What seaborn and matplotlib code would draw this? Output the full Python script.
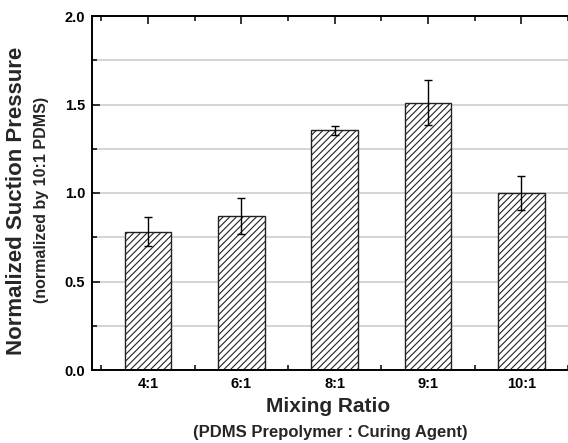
import matplotlib
matplotlib.use("Agg")
import matplotlib.pyplot as plt
from matplotlib.ticker import MultipleLocator
import pandas as pd
import seaborn as sns

sns.set_style("white")
plt.rcParams["font.family"] = ["Liberation Sans", "DejaVu Sans"]
plt.rcParams["font.weight"] = "bold"
plt.rcParams["hatch.linewidth"] = 0.8

# data
ratios = ["4:1", "6:1", "8:1", "9:1", "10:1"]
pressure = [0.78, 0.87, 1.355, 1.51, 1.00]
pressure_err = [0.082, 0.10, 0.025, 0.128, 0.097]

df = pd.DataFrame({"ratio": ratios, "pressure": pressure})

fig = plt.figure(figsize=(5.68, 4.43), dpi=100)
ax = fig.add_axes([92 / 568, 1 - 370 / 443, 1 - 92 / 568, (370 - 16) / 443])

sns.barplot(data=df, x="ratio", y="pressure", color="white", edgecolor="#222222",
            linewidth=1.0, width=0.5, hatch="/////", ax=ax, zorder=2)
ax.errorbar(range(len(ratios)), pressure, yerr=pressure_err, fmt="none",
            ecolor="black", elinewidth=1.0, capsize=3, capthick=1.0, zorder=3)

ax.set_xlim(-0.6, 4.5)
ax.set_ylim(0, 2.0)
ax.yaxis.set_major_locator(MultipleLocator(0.5))
ax.yaxis.set_minor_locator(MultipleLocator(0.25))
ax.set_xticks(range(len(ratios)))
ax.set_xticks([i + 0.5 for i in range(-1, len(ratios))], minor=True)
ax.grid(True, which="both", axis="y", color="#d4d4d4", linewidth=1.4, zorder=0)
ax.set_axisbelow(True)

for side in ["left", "bottom", "top"]:
    ax.spines[side].set_color("black")
    ax.spines[side].set_linewidth(1.4)
ax.spines["right"].set_visible(False)

ax.tick_params(which="both", direction="in", top=True, bottom=True, left=True,
               right=False, width=1.1, colors="black")
ax.tick_params(which="major", length=6, labelsize=10.5, pad=5)
ax.tick_params(which="minor", length=3.5)
for lab in ax.get_xticklabels() + ax.get_yticklabels():
    lab.set_fontweight("bold")

ax.set_xlabel("")
ax.set_ylabel("")
fig.text(17 / 568, 1 - 201 / 443, "Normalized Suction Pressure", rotation=90,
         ha="center", va="center", fontsize=16, fontweight="bold")
fig.text(42 / 568, 1 - 200 / 443, "(normalized by 10:1 PDMS)", rotation=90,
         ha="center", va="center", fontsize=11.5, fontweight="bold")
fig.text(328 / 568, 1 - 407 / 443, "Mixing Ratio", ha="center", va="center",
         fontsize=15, fontweight="bold")
fig.text(330 / 568, 1 - 433 / 443, "(PDMS Prepolymer : Curing Agent)",
         ha="center", va="center", fontsize=12, fontweight="bold")

fig.savefig("out.png", dpi=100)
